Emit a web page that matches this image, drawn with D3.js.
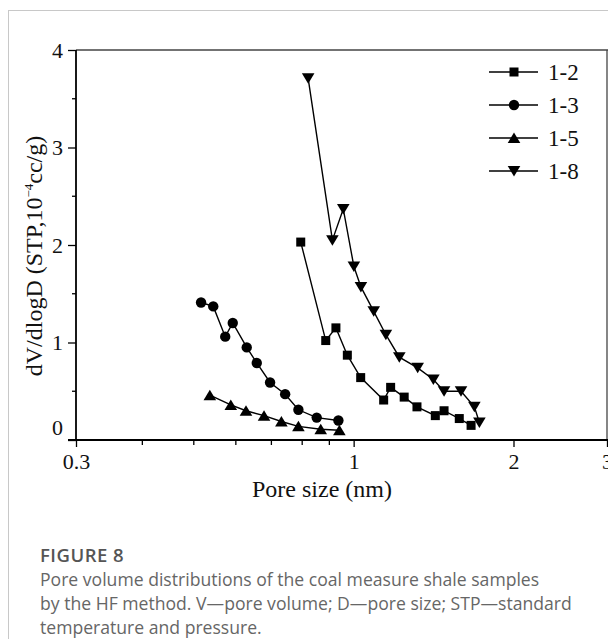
<!DOCTYPE html>
<html>
<head>
<meta charset="utf-8">
<script src="https://cdn.jsdelivr.net/npm/d3@7"></script>
<style>
  html, body { margin: 0; padding: 0; background: #fff; }
  svg { display: block; }
</style>
</head>
<body>
<svg id="chart" width="608" height="639"></svg>
<script>
// ---- data (pore size in nm, dV/dlogD in 10^-4 cc/g) ----
const seriesNames = ["1-2", "1-3", "1-5", "1-8"];

const x12 = [0.795, 0.886, 0.926, 0.973, 1.031, 1.139, 1.174, 1.245, 1.316, 1.425, 1.480, 1.581, 1.664];
const y12 = [2.03, 1.02, 1.15, 0.87, 0.64, 0.41, 0.54, 0.44, 0.34, 0.25, 0.30, 0.22, 0.15];

const x13 = [0.516, 0.544, 0.573, 0.592, 0.629, 0.657, 0.696, 0.743, 0.787, 0.852, 0.936];
const y13 = [1.41, 1.37, 1.06, 1.20, 0.95, 0.79, 0.59, 0.47, 0.31, 0.23, 0.20];

const x15 = [0.536, 0.587, 0.627, 0.678, 0.731, 0.787, 0.867, 0.940];
const y15 = [0.46, 0.36, 0.30, 0.25, 0.19, 0.14, 0.11, 0.10];

const x18 = [0.821, 0.912, 0.956, 1.001, 1.032, 1.091, 1.150, 1.219, 1.320, 1.413, 1.480, 1.593, 1.688, 1.725];
const y18 = [3.71, 2.05, 2.37, 1.78, 1.57, 1.32, 1.08, 0.85, 0.74, 0.62, 0.50, 0.50, 0.34, 0.18];

const xTickValues = [0.3, 1, 2, 3];
const xMinorTicks = [0.4, 0.5, 0.6, 0.7, 0.8, 0.9];
const yTickValues = [0, 1, 2, 3, 4];
const yMinorTicks = [0.5, 1.5, 2.5, 3.5];

const xTitle = "Pore size (nm)";
const figLabel = "FIGURE 8";
const captionLines = [
  "Pore volume distributions of the coal measure shale samples",
  "by the HF method. V\u2014pore volume; D\u2014pore size; STP\u2014standard",
  "temperature and pressure."
];

// ---- build ----
const series = [
  { name: seriesNames[0], xs: x12, ys: y12, shape: "square" },
  { name: seriesNames[1], xs: x13, ys: y13, shape: "circle" },
  { name: seriesNames[2], xs: x15, ys: y15, shape: "up" },
  { name: seriesNames[3], xs: x18, ys: y18, shape: "down" }
];

const svg = d3.select("#chart");
const serif = "'Liberation Serif', 'Times New Roman', serif";

// card border
svg.append("rect")
  .attr("x", 8.5).attr("y", 10.5)
  .attr("width", 700).attr("height", 700)
  .attr("fill", "none").attr("stroke", "#c8c8c8").attr("stroke-width", 1);

const L = 76, R = 607, T = 50, B = 440;
const x = d3.scaleLog().domain([0.3, 3]).range([L, R]);
const y = d3.scaleLinear().domain([0, 4]).range([B, T]);

// frame top/right
svg.append("line").attr("x1", L).attr("x2", R + 2).attr("y1", T).attr("y2", T)
  .attr("stroke", "#444").attr("stroke-width", 1.3);
svg.append("line").attr("x1", R).attr("x2", R).attr("y1", T).attr("y2", B)
  .attr("stroke", "#444").attr("stroke-width", 1.3);

// y axis
const yAxis = svg.append("g").attr("transform", `translate(${L},0)`)
  .call(d3.axisLeft(y).tickValues(yTickValues).tickFormat(d3.format("d"))
    .tickSize(8).tickPadding(5));
yAxis.append("g").selectAll("line").data(yMinorTicks).join("line")
  .attr("x1", 0).attr("x2", -4).attr("y1", d => y(d)).attr("y2", d => y(d))
  .attr("stroke", "#000").attr("stroke-width", 1.3);
yAxis.selectAll(".domain").attr("d", `M0,${T}V${B + 1}`);
yAxis.selectAll(".tick text").filter(d => d === 0).attr("dy", "-0.25em");

// x axis
const xAxis = svg.append("g").attr("transform", `translate(0,${B})`)
  .call(d3.axisBottom(x).tickValues(xTickValues).tickFormat(d => String(d))
    .tickSize(7).tickPadding(6));
xAxis.append("g").selectAll("line").data(xMinorTicks).join("line")
  .attr("x1", d => x(d)).attr("x2", d => x(d)).attr("y1", 0).attr("y2", 5)
  .attr("stroke", "#000").attr("stroke-width", 1.3);
xAxis.selectAll(".domain").attr("d", `M${L - 8},0H${R + 2}`);

[yAxis, xAxis].forEach(a => {
  a.selectAll(".domain").attr("stroke", "#000").attr("stroke-width", 1.8);
  a.selectAll(".tick line").attr("stroke", "#000").attr("stroke-width", 1.3);
  a.selectAll("text").attr("font-family", serif).attr("font-size", 22).attr("fill", "#111");
});

// titles
svg.append("text").attr("x", 322).attr("y", 497)
  .attr("text-anchor", "middle").attr("font-family", serif).attr("font-size", 24)
  .attr("fill", "#111").text(xTitle);

const yt = svg.append("text")
  .attr("transform", "translate(42,256) rotate(-90)")
  .attr("text-anchor", "middle").attr("font-family", serif).attr("font-size", 24)
  .attr("fill", "#111");
yt.append("tspan").text("dV/dlogD (STP,10");
yt.append("tspan").attr("font-size", 13).attr("dy", -9).text("\u22124");
yt.append("tspan").attr("dy", 9).text("cc/g)");

// markers
function marker(g, shape, cx, cy) {
  if (shape === "square") {
    g.append("rect").attr("x", cx - 4.5).attr("y", cy - 4.5).attr("width", 9).attr("height", 9)
      .attr("fill", "#000");
  } else if (shape === "circle") {
    g.append("circle").attr("cx", cx).attr("cy", cy).attr("r", 5.2).attr("fill", "#000");
  } else if (shape === "up") {
    g.append("path").attr("d", `M${cx},${cy - 5.5}L${cx + 6.3},${cy + 5}L${cx - 6.3},${cy + 5}Z`)
      .attr("fill", "#000");
  } else {
    g.append("path").attr("d", `M${cx},${cy + 5.5}L${cx + 6.3},${cy - 5}L${cx - 6.3},${cy - 5}Z`)
      .attr("fill", "#000");
  }
}

const line = d3.line().x(d => x(d[0])).y(d => y(d[1]));
series.forEach(s => {
  const pts = s.xs.map((v, i) => [v, s.ys[i]]);
  const g = svg.append("g");
  g.append("path").attr("d", line(pts)).attr("fill", "none")
    .attr("stroke", "#000").attr("stroke-width", 1.4);
  pts.forEach(p => marker(g, s.shape, x(p[0]), y(p[1])));
});

// legend
series.forEach((s, i) => {
  const ly = 72 + i * 33;
  const g = svg.append("g");
  g.append("line").attr("x1", 489).attr("x2", 538).attr("y1", ly).attr("y2", ly)
    .attr("stroke", "#000").attr("stroke-width", 1.4);
  marker(g, s.shape, 514, ly);
  g.append("text").attr("x", 548).attr("y", ly + 8)
    .attr("font-family", serif).attr("font-size", 23).attr("fill", "#111").text(s.name);
});

// caption
const sans = "'Open Sans', 'Noto Sans', sans-serif";
svg.append("text").attr("x", 40).attr("y", 562)
  .attr("font-family", sans).attr("font-size", 18.5).attr("font-weight", 600)
  .attr("letter-spacing", 0.5)
  .attr("fill", "#555").text(figLabel);
captionLines.forEach((t, i) => {
  svg.append("text").attr("x", 40).attr("y", 586 + i * 24)
    .attr("font-family", sans).attr("font-size", 17.6)
    .attr("fill", "#666").text(t);
});
</script>
</body>
</html>
